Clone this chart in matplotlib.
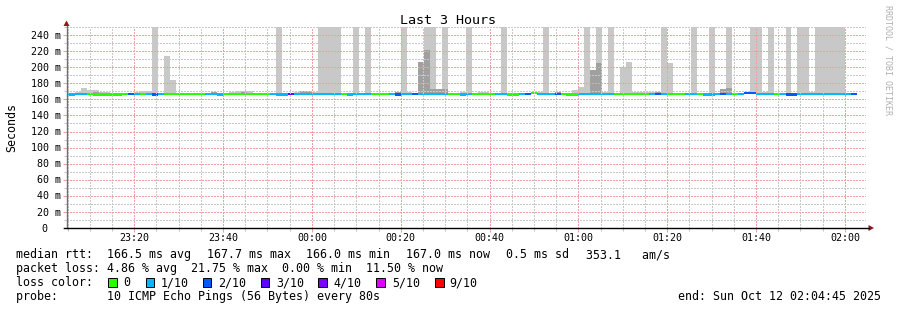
#!/usr/bin/env python3

import numpy as np
import matplotlib
matplotlib.use("Agg")
import matplotlib.pyplot as plt
from matplotlib.patches import Rectangle, Polygon
from matplotlib.transforms import offset_copy

plt.rcParams['font.family'] = 'DejaVu Sans Mono'

nan = np.nan

# time axis in minutes after 23:04:45, one sample every 80 s
span = 180.0
step = 80 / 60
first_edge = 0.56

# median rtt (ms) per sample
median = [167, 166, 167, 167, 167, 166, 166, 166, 166, 166,
          167, 166.5, 167, 167, 166.5, 166, 166.5, 167, 166.5, 166.5,
          166.5, 166.5, 166.5, 167, 167, 167, 166, 166.5, 166.5, 166.5,
          166.5, 166.5, 166.5, 166.5, 166.5, 166.5, 166, 166, 166.5, 166.5,
          166.5, 166.5, 166.5, 167, 167, 167, 167, 166.5, 166, 166.5,
          166.5, 166.5, 167, 167, 166.5, 166.5, 166, 166.5, 166.5, 166.5,
          166.5, 166.5, 166.5, 166.5, 166.5, 166.5, 166.5, 166, 166.5, 166.5,
          166.5, 166.5, 166.5, 166.5, 166.5, 166, 166, 166.5, 166.5, 167.5,
          166.5, 166.5, 166.5, 167, 166.5, 166, 166, 166.5, 166.5, 166.5,
          166.5, 166.5, 166.5, 166.5, 166.5, 166.5, 166.5, 166.5, 166.5, 166.5,
          166.5, 166.5, 166.5, 166.5, 166.5, 166.5, 166.5, 166.5, 166, 166,
          166.5, 166.5, 166.5, 166.5, 166.5, 167.5, 167.5, 166.5, 166.5, 166.5,
          166.5, 166.5, 166, 166, 166.5, 166.5, 166.5, 166.5, 166.5, 166.5,
          166.5, 166.5, 166.5, 167]

# lost pings out of 10 per sample
loss = [1, 1, 1, 1, 0, 0, 0, 0, 0, 0,
        0, 2, 1, 0, 1, 2, 1, 0, 0, 0,
        0, 0, 0, 0, 1, 1, 1, 0, 0, 0,
        0, 0, 0, 0, 0, 1, 1, 1, 3, 1,
        1, 1, 1, 1, 1, 1, 1, 0, 1, 1,
        1, 1, 0, 0, 0, 1, 2, 1, 1, 2,
        1, 1, 1, 1, 1, 0, 0, 1, 1, 0,
        0, 0, 0, 1, 1, 0, 0, 1, 2, 0,
        1, 1, 1, 2, 0, 0, 0, 1, 1, 1,
        1, 1, 1, 0, 0, 0, 0, 0, 0, 1,
        2, 1, 0, 0, 0, 1, 1, 0, 1, 1,
        1, 2, 1, 0, 1, 2, 2, 1, 1, 1,
        0, 1, 2, 2, 1, 1, 1, 1, 1, 1,
        1, 1, 1, 2]

# slowest ping per sample (ms, graph clips at 250)
smoke_hi = [168.5, 168.5, 169, 174, 171.5, 171.5, 169, 169, 168, 168,
            168, 168, 169.5, 170, 170, 250, 168, 214, 184, 168.5,
            168.5, 168, 168, 168, 168.5, 169, 168, 168, 169, 170,
            170, 170, 168, 168.5, 168.5, 168.5, 250, 168, 168, 169,
            170.5, 170.5, 169, 250, 250, 250, 250, 168, 168, 250,
            168, 250, 168, 168, 168, 168.5, 169.5, 250, 169, 168,
            207, 250, 250, 173, 250, 168, 168, 169, 250, 168,
            169, 169, 168, 168, 250, 168, 168, 168, 168, 168,
            169, 250, 168, 169.5, 168, 168, 172, 175, 250, 196.5,
            250, 169, 250, 168.5, 200, 207, 169.5, 169.5, 169.5, 169.5,
            169.5, 250, 205, 168, 168, 168, 250, 168, 168.5, 250,
            168.5, 173, 250, 168, 168, 169, 250, 250, 169, 250,
            168, 168, 250, 168, 250, 250, 169, 250, 250, 250,
            250, 250, 168.5, nan]

# second slowest ping per sample (darker smoke)
smoke_dark = [nan, nan, 168.5, nan, nan, 169.5, nan, nan, nan, nan,
              nan, nan, nan, nan, nan, nan, nan, nan, nan, nan,
              nan, nan, nan, nan, nan, 169, nan, nan, nan, nan,
              169.5, nan, nan, nan, nan, nan, nan, nan, nan, nan,
              170.5, 170.5, nan, nan, nan, nan, nan, nan, nan, nan,
              nan, nan, nan, nan, nan, nan, 169.5, nan, nan, nan,
              207, 221, 173, 173, 173, nan, nan, nan, nan, nan,
              nan, nan, nan, nan, nan, nan, nan, nan, nan, nan,
              nan, nan, nan, 169.5, nan, nan, nan, nan, nan, 196.5,
              205.5, nan, nan, nan, nan, nan, nan, nan, nan, nan,
              169, nan, nan, nan, nan, nan, nan, nan, nan, nan,
              nan, 173, 174.5, nan, nan, nan, nan, nan, nan, nan,
              nan, nan, nan, nan, nan, nan, nan, nan, nan, nan,
              nan, nan, nan, nan]

hour_labels = ["23:20", "23:40", "00:00", "00:20", "00:40",
               "01:00", "01:20", "01:40", "02:00"]
first_hour = 15.25  # 23:20 in minutes after 23:04:45

loss_colors = {0: '#26ff00', 1: '#00b8ff', 2: '#0059ff', 3: '#5e00ff',
               4: '#7e00ff', 5: '#dd00ff', 9: '#ff0000'}
legend_loss = ["0", "1/10", "2/10", "3/10", "4/10", "5/10", "9/10"]
legend_keys = [0, 1, 2, 3, 4, 5, 9]

W, H = 897, 310


def fx(x):
    return x / W


def fy(y):
    return 1 - y / H


median = np.array(median, float)
smoke_hi = np.array(smoke_hi, float)
smoke_dark = np.array(smoke_dark, float)
idx = np.arange(len(median))
left = np.maximum(0.0, first_edge + step * (idx - 1))
right = np.minimum(span, first_edge + step * idx)
width = right - left

fig = plt.figure(figsize=(W / 100, H / 100), dpi=100)
fig.patch.set_facecolor('white')
ax = fig.add_axes([fx(66.5), fy(228), (866 - 66.5) / W, 201 / H])
ax.set_xlim(0, span)
ax.set_ylim(0, 250)

lo = median - 1.2
ax.bar(left, smoke_hi - lo, width, bottom=lo, align='edge',
       color='#c8c8c8', linewidth=0, antialiased=False)
ax.bar(left, smoke_dark - lo, width, bottom=lo, align='edge',
       color='#a0a0a0', linewidth=0, antialiased=False)
ax.bar(left, 2.8, width, bottom=median - 1.4, align='edge',
       color=[loss_colors[v] for v in loss], linewidth=0, antialiased=False)

# grid
red_grid = '#f0a0a0'
gray_grid = '#c8c8c8'
hour_pos = first_hour + 20 * np.arange(len(hour_labels))
ax.set_xticks(hour_pos)
ax.set_xticks(np.arange(0.25, span, 5), minor=True)
ax.set_yticks(np.arange(0, 250, 20))
ax.set_yticks(np.arange(10, 251, 20), minor=True)
ax.set_axisbelow(False)
ax.grid(True, which='major', color=red_grid, linestyle=(0, (1, 1.5)),
        linewidth=0.8, antialiased=False)
ax.grid(True, which='minor', color=gray_grid, linestyle=(0, (1, 1.5)),
        linewidth=0.8, antialiased=False)
ax.tick_params(which='major', direction='out', length=3, width=0.75,
               color=red_grid, labelbottom=False, labelleft=False)
ax.tick_params(which='minor', direction='out', length=2, width=0.75,
               color=gray_grid)
for s in ax.spines.values():
    s.set_visible(False)

# axes with arrows
fig.add_artist(plt.Line2D([fx(66.5), fx(66.5)], [fy(228), fy(26)],
                          color='#707070', linewidth=1))
fig.add_artist(plt.Line2D([fx(64), fx(868.5)], [fy(228), fy(228)],
                          color='black', linewidth=1))
fig.add_artist(Polygon([(fx(63.5), fy(26)), (fx(69.5), fy(26)), (fx(66.5), fy(20.5))],
                       closed=True, transform=fig.transFigure, color='#901818', lw=0))
fig.add_artist(Polygon([(fx(868.5), fy(225)), (fx(868.5), fy(231)), (fx(874), fy(228))],
                       closed=True, transform=fig.transFigure, color='#901818', lw=0))

# tick labels
ylab_tr = ax.get_yaxis_transform()
for v in np.arange(0, 250, 20):
    if v == 0:
        tr = offset_copy(ylab_tr, fig=fig, x=-19.5, y=-3.6, units='dots')
        txt = "0"
    else:
        tr = offset_copy(ylab_tr, fig=fig, x=-6, y=-3.6, units='dots')
        txt = f"{v} m"
    ax.text(0, v, txt, transform=tr, ha='right', va='baseline',
            fontsize=7.2, color='black')

xlab_tr = offset_copy(ax.get_xaxis_transform(), fig=fig, x=0, y=-13, units='dots')
for p, lab in zip(hour_pos, hour_labels):
    ax.text(p, 0, lab, transform=xlab_tr, ha='center', va='baseline',
            fontsize=7.2, color='black')

fig.text(fx(447.5), fy(23.5), "Last 3 Hours", ha='center', va='baseline',
         fontsize=9.6, color='black')
fig.text(fx(11.5), fy(127), "Seconds", rotation=90, ha='center', va='center',
         fontsize=8.37, color='black')
fig.text(fx(887.5), fy(60), "RRDTOOL / TOBI OETIKER", rotation=270,
         ha='center', va='center', fontsize=6.0, color='#b0b0b0')

# legend
lfs = 8.37
rtt_items = ["median rtt:", "166.5 ms avg", "167.7 ms max", "166.0 ms min",
             "167.0 ms now", "0.5 ms sd", "353.1   am/s"]
rtt_x = [15.5, 106.8, 206.8, 306.2, 406.2, 506.2, 585.5]
for x, t in zip(rtt_x, rtt_items):
    fig.text(fx(x), fy(258.3), t, ha='left', va='baseline', fontsize=lfs)

fig.text(fx(15.5), fy(272.3),
         "packet loss: 4.86 % avg  21.75 % max  0.00 % min  11.50 % now",
         ha='left', va='baseline', fontsize=lfs)

fig.text(fx(15.5), fy(286.3), "loss color:", ha='left', va='baseline', fontsize=lfs)
box_x = [108.3, 145.7, 202.7, 260.7, 318.3, 376, 435]
text_x = [122.8, 160.2, 217.8, 276.2, 333.8, 392.2, 449.5]
for bx, tx, key, lab in zip(box_x, text_x, legend_keys, legend_loss):
    fig.add_artist(Rectangle((fx(bx), fy(286.8)), 8.5 / W, 9 / H,
                             transform=fig.transFigure, facecolor=loss_colors[key],
                             edgecolor='black', linewidth=0.7))
    fig.text(fx(tx), fy(286.3), lab, ha='left', va='baseline', fontsize=lfs)

fig.text(fx(15.5), fy(300.3),
         "probe:       10 ICMP Echo Pings (56 Bytes) every 80s",
         ha='left', va='baseline', fontsize=lfs)
fig.text(fx(880.5), fy(300.3), "end: Sun Oct 12 02:04:45 2025",
         ha='right', va='baseline', fontsize=lfs)

fig.savefig("out.png", dpi=100, facecolor='white')
